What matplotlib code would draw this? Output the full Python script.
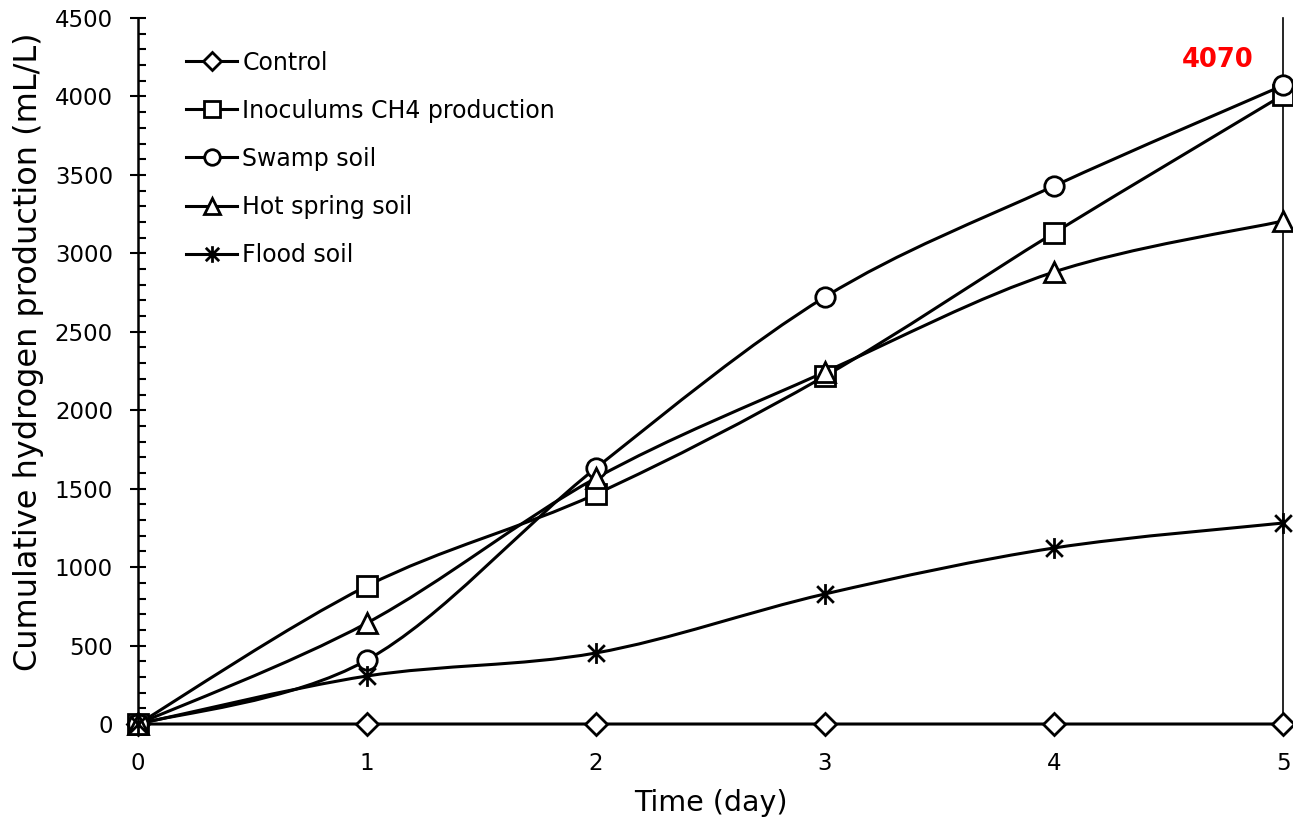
import matplotlib
matplotlib.use("Agg")
import matplotlib.pyplot as plt
import numpy as np
from matplotlib.path import Path
from matplotlib.patches import PathPatch
from matplotlib.lines import Line2D
from matplotlib.ticker import MultipleLocator

# data
days = [0, 1, 2, 3, 4, 5]
control = [0, 0, 0, 0, 0, 0]
inoculum = [0, 880, 1466, 2218, 3130, 4009]
swamp = [0, 408, 1632, 2722, 3429, 4070]
hot_spring = [0, 644, 1568, 2244, 2881, 3206]
flood = [0, 306, 453, 829, 1122, 1281]
labels = ["Control", "Inoculums CH4 production", "Swamp soil", "Hot spring soil", "Flood soil"]

# asterisk marker like Excel's star (x plus vertical bar)
star = Path([(-1, -1), (1, 1), (-1, 1), (1, -1), (0, -1.25), (0, 1.25)],
            [Path.MOVETO, Path.LINETO, Path.MOVETO, Path.LINETO, Path.MOVETO, Path.LINETO])

def smooth_path(x, y):
    # excel-like smoothed line: bezier through the points
    x = np.asarray(x, float); y = np.asarray(y, float)
    n = len(x)
    verts = [(x[0], y[0])]
    codes = [Path.MOVETO]
    for i in range(n - 1):
        i0 = max(i - 1, 0); i3 = min(i + 2, n - 1)
        c1 = (x[i] + (x[i + 1] - x[i0]) / 6, y[i] + (y[i + 1] - y[i0]) / 6)
        c2 = (x[i + 1] - (x[i3] - x[i]) / 6, y[i + 1] - (y[i3] - y[i]) / 6)
        verts += [c1, c2, (x[i + 1], y[i + 1])]
        codes += [Path.CURVE4] * 3
    return Path(verts, codes)

fig = plt.figure(figsize=(12.93, 8.25), dpi=100)
ax = fig.add_axes([0.1067, 0.1224, 0.8856, 0.8558])

series = [control, inoculum, swamp, hot_spring, flood]
markers = ["D", "s", "o", "^", star]
msizes = [11, 14, 14, 14, 15]
for s, m, ms, lab in zip(series, markers, msizes, labels):
    ax.add_patch(PathPatch(smooth_path(days, s), fill=False, lw=2.2, ec="black", zorder=3, clip_on=False))
    ax.plot(days, s, ls="none", marker=m, ms=ms, mfc="white", mec="black",
            mew=2.0, zorder=4, clip_on=False)

ax.set_xlim(0, 5)
ax.set_ylim(0, 4500)
ax.yaxis.set_major_locator(MultipleLocator(500))
ax.yaxis.set_minor_locator(MultipleLocator(100))
ax.xaxis.set_major_locator(MultipleLocator(1))
ax.tick_params(axis="y", which="major", direction="inout", length=12, width=1.5, labelsize=16.5, pad=12)
ax.tick_params(axis="y", which="minor", direction="in", length=6, width=1.5)
ax.tick_params(axis="x", which="major", length=0, labelsize=16.5, pad=20)
ax.spines["top"].set_visible(False)
ax.spines["left"].set_linewidth(1.8)
ax.spines["right"].set_linewidth(1.2)
ax.spines["bottom"].set_linewidth(1.2)

ax.set_xlabel("Time (day)", fontsize=20.5, labelpad=10)
ax.set_ylabel("Cumulative hydrogen production (mL/L)", fontsize=23)
ax.yaxis.set_label_coords(-0.082, 0.527)

ax.text(4.716, 4232, "4070", color="red", fontsize=18.5, fontweight="bold", ha="center", va="center")

handles = [Line2D([], [], color="black", lw=2.2, marker=m, ms=ms * 0.8, mfc="white", mec="black", mew=2.0)
           for m, ms in zip(markers, msizes)]
ax.legend(handles, labels, loc="upper left", bbox_to_anchor=(0.023, 0.984), frameon=False,
          fontsize=17, handlelength=2.2, handletextpad=0.2, labelspacing=1.02)

fig.savefig("out.png", dpi=100)
